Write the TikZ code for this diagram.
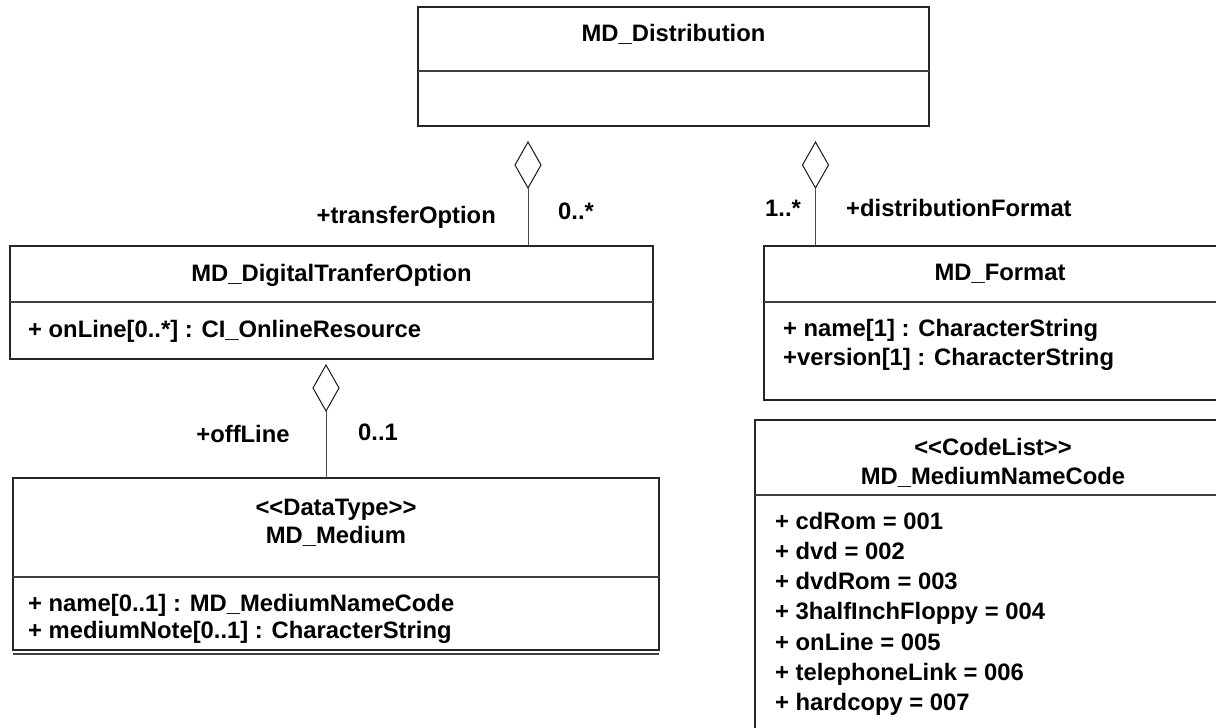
\documentclass[tikz,border=0pt]{standalone}
\usepackage{fontspec}
\setmainfont{Liberation Sans}
\usetikzlibrary{shapes.geometric}
\newcommand\umlfont{\fontsize{23.8}{30}\selectfont\bfseries}
\newcommand\lguil{<\kern0pt<}
\newcommand\rguil{>\kern0pt>}
\begin{document}
\begin{tikzpicture}[x=1pt,y=-1pt,
  box/.style={draw=black!85, line width=1.3pt, rectangle, inner sep=0, outer sep=0, anchor=north west},
  sep/.style={draw=black!75, line width=1.1pt},
  link/.style={draw=black!70, line width=1pt},
  agg/.style={draw=black!90, line width=1pt, diamond, inner sep=0, outer sep=0, minimum width=26pt, minimum height=46pt},
  t/.style={inner sep=0, font=\umlfont, text=black},
]
\useasboundingbox (0,0) rectangle (1216,728);
\clip (0,0) rectangle (1216,728);

% class boxes
\node[box, minimum width=511pt, minimum height=119pt] (dist) at (418,7) {};
\node[box, minimum width=643pt, minimum height=113pt] (dto) at (10,246) {};
\node[box, minimum width=646pt, minimum height=172pt] (med) at (13,478) {};
\node[box, minimum width=472pt, minimum height=154pt] (fmt) at (764,246) {};
\node[box, minimum width=476pt, minimum height=340pt] (code) at (755,420) {};

% compartment separators
\draw[sep] (418,71) -- (929,71);
\draw[sep] (10,302) -- (653,302);
\draw[sep] (13,577) -- (659,577);
\draw[sep] (764,302) -- (1236,302);
\draw[sep] (755,495) -- (1231,495);
\draw[sep] (13,654) -- (659,654);

% aggregation diamonds
\node[agg] (d1) at (528,165) {};
\node[agg] (d2) at (815.5,165) {};
\node[agg] (d3) at (326,388) {};

% connectors
\draw[link] (d1.south) -- (d1.south |- dto.north);
\draw[link] (d2.south) -- (d2.south |- fmt.north);
\draw[link] (d3.south) -- (d3.south |- med.north);

% titles
\node[t, anchor=base] (tdist) at (673.5,41) {MD\_Distribution};
\node[t, anchor=base] (tdto) at (331.5,281) {MD\_DigitalTranferOption};
\node[t, anchor=base] (tfmt) at (1000,280) {MD\_Format};
\node[t, anchor=base] (sdt) at (336,515) {\lguil DataType\rguil};
\node[t, anchor=base] (tmed) at (336,543) {MD\_Medium};
\node[t, anchor=base] (scl) at (993,455) {\lguil CodeList\rguil};
\node[t, anchor=base] (tcode) at (993,484) {MD\_MediumNameCode};

% attributes
\node[t, anchor=base west] (a1) at (28,337) {+ onLine[0..*] : CI\_OnlineResource};
\node[t, anchor=base west] (a2) at (783,336) {+ name[1] : CharacterString};
\node[t, anchor=base west] (a3) at (783,365) {+version[1] : CharacterString};
\node[t, anchor=base west] (a4) at (28,611) {+ name[0..1] : MD\_MediumNameCode};
\node[t, anchor=base west] (a5) at (28,638) {+ mediumNote[0..1] : CharacterString};

\node[t, anchor=base west] (c1) at (775,529) {+ cdRom = 001};
\node[t, anchor=base west] (c2) at (775,559.3) {+ dvd = 002};
\node[t, anchor=base west] (c3) at (775,589.6) {+ dvdRom = 003};
\node[t, anchor=base west] (c4) at (775,619.9) {+ 3halfInchFloppy = 004};
\node[t, anchor=base west] (c5) at (775,650.2) {+ onLine = 005};
\node[t, anchor=base west] (c6) at (775,680.5) {+ telephoneLink = 006};
\node[t, anchor=base west] (c7) at (775,710.8) {+ hardcopy = 007};

% role names and multiplicities
\node[t, anchor=base east] (r1) at (496,223) {+transferOption};
\node[t, anchor=base west] (m1) at (558,219) {0..*};
\node[t, anchor=base west] (m2) at (765,216) {1..*};
\node[t, anchor=base west] (r2) at (846,216) {+distributionFormat};
\node[t, anchor=base] (r3) at (243,442) {+offLine};
\node[t, anchor=base west] (m3) at (358,440) {0..1};
\end{tikzpicture}
\end{document}
